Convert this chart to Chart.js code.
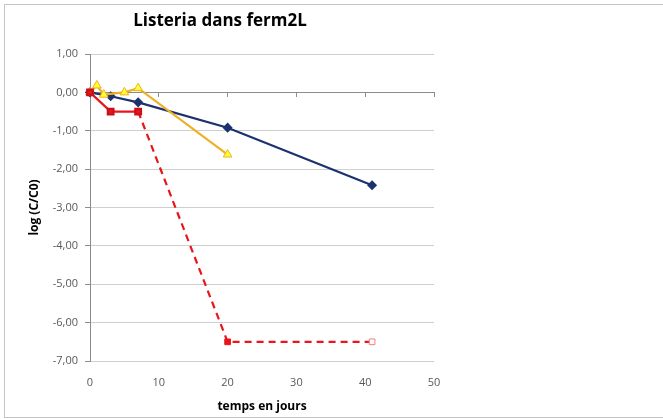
<!DOCTYPE html>
<html>
<head>
<meta charset="utf-8">
<script src="https://cdn.jsdelivr.net/npm/chart.js"></script>
<style>
  body { margin: 0; background: #fff; }
  #frame { position: absolute; left: 4px; top: 4px; width: 680px; height: 412px; border: 1px solid #c4c4c4; }
  #wrap { position: absolute; left: 0; top: 0; width: 663px; height: 419px; }
</style>
</head>
<body>
<div id="frame"></div>
<div id="wrap"><canvas id="chart" width="663" height="419"></canvas></div>
<script>
const chartTitle = 'Listeria dans ferm2L';
const xTitle = 'temps en jours';
const yTitle = 'log (C/C0)';

// serie bleue (losanges)
const blueDays = [0, 3, 7, 20, 41];
const blueVals = [0, -0.1, -0.26, -0.92, -2.42];

// serie jaune (triangles)
const yellowDays = [0, 1, 2, 5, 7, 20];
const yellowVals = [0, 0.18, -0.06, 0.0, 0.11, -1.62];

// serie rouge, partie pleine puis pointillée
const redDays = [0, 3, 7];
const redVals = [0, -0.5, -0.5];
const redDashDays = [7, 20, 41];
const redDashVals = [-0.5, -6.5, -6.5];

const toXY = (xs, ys) => xs.map((x, i) => ({ x: x, y: ys[i] }));
const fmt = v => v.toFixed(2).replace('.', ',');

const titlePlugin = {
    id: 'excelTitle',
    afterDraw(chart) {
        const ctx = chart.ctx;
        ctx.save();
        ctx.font = 'bold 17px "Open Sans", sans-serif';
        ctx.fillStyle = '#000';
        ctx.textAlign = 'center';
        ctx.textBaseline = 'middle';
        ctx.fillText(chartTitle, 220, 21);
        ctx.restore();
    }
};

new Chart(document.getElementById('chart').getContext('2d'), {
    type: 'scatter',
    data: {
        datasets: [
            {
                data: toXY(blueDays, blueVals),
                showLine: true,
                clip: false,
                borderColor: '#1c3270',
                backgroundColor: '#1c3270',
                borderWidth: 2.2,
                pointStyle: 'rectRot',
                pointRadius: 3.5,
                order: 3
            },
            {
                data: toXY(yellowDays, yellowVals),
                showLine: true,
                clip: false,
                borderColor: '#f0b025',
                backgroundColor: '#ffff33',
                borderWidth: 2.2,
                pointStyle: 'triangle',
                pointRadius: 5,
                pointBorderWidth: 1,
                order: 2
            },
            {
                data: toXY(redDashDays, redDashVals),
                showLine: true,
                clip: false,
                borderColor: '#e8161c',
                borderWidth: 2.2,
                borderDash: [7, 5],
                pointStyle: 'rect',
                pointRadius: 4,
                pointBorderWidth: 1,
                pointBackgroundColor: ['#e8161c', '#e8161c', '#ffffff'],
                pointBorderColor: ['#e8161c', '#e8161c', '#f08080'],
                order: 1
            },
            {
                data: toXY(redDays, redVals),
                showLine: true,
                clip: false,
                borderColor: '#e8161c',
                backgroundColor: '#e8161c',
                borderWidth: 2.2,
                pointStyle: 'rect',
                pointRadius: 4,
                pointBorderColor: '#c81016',
                order: 0
            }
        ]
    },
    options: {
        responsive: false,
        animation: false,
        layout: { padding: { left: 0, top: 54, right: 229, bottom: 0 } },
        plugins: {
            legend: { display: false },
            tooltip: { enabled: false }
        },
        scales: {
            x: {
                type: 'linear',
                position: 'bottom',
                min: 0,
                max: 50,
                afterFit: s => { s.height = 58; },
                ticks: {
                    stepSize: 10,
                    padding: 15,
                    color: '#595959',
                    font: { family: '"Open Sans", sans-serif', size: 11 }
                },
                grid: { display: false, drawTicks: false },
                border: { display: false },
                title: {
                    display: true,
                    text: xTitle,
                    color: '#000',
                    padding: { top: 0, bottom: 5 },
                    font: { family: '"Open Sans", sans-serif', size: 12, weight: 'bold' }
                }
            },
            x2: {
                type: 'linear',
                position: { y: 0 },
                min: 0,
                max: 50,
                ticks: { display: false, stepSize: 10 },
                grid: { drawOnChartArea: false, tickLength: 4, color: '#8c8c8c' },
                border: { color: '#8c8c8c', width: 1 }
            },
            y: {
                type: 'linear',
                min: -7,
                max: 1,
                afterFit: s => { s.width = 90; },
                ticks: {
                    stepSize: 1,
                    padding: 7,
                    color: '#595959',
                    font: { family: '"Open Sans", sans-serif', size: 11 },
                    callback: v => fmt(v)
                },
                grid: { color: '#cfcfcf', tickLength: 5, tickColor: '#8c8c8c' },
                border: { color: '#8c8c8c' },
                title: {
                    display: true,
                    text: yTitle,
                    color: '#000',
                    padding: { top: 27, bottom: 0 },
                    font: { family: '"Open Sans", sans-serif', size: 12, weight: 'bold' }
                }
            }
        }
    },
    plugins: [titlePlugin]
});
</script>
</body>
</html>
